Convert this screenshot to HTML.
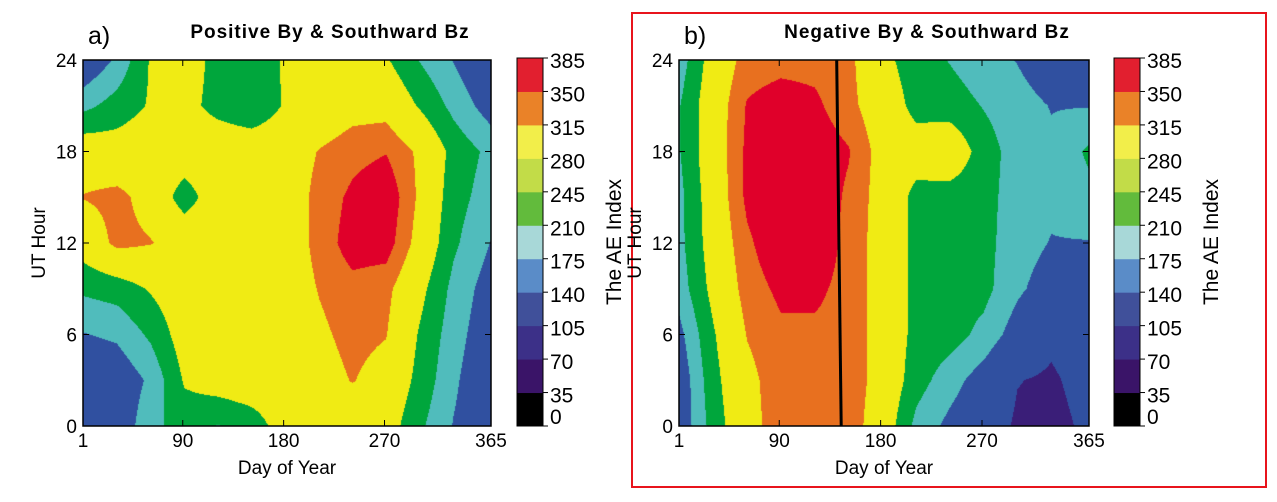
<!DOCTYPE html>
<html><head><meta charset="utf-8"><style>
body{margin:0;width:1277px;height:502px;background:#fff;position:relative;overflow:hidden;font-family:"Liberation Sans",sans-serif}
.abs{position:absolute}
canvas{position:absolute}
</style></head><body>
<div class="abs" style="left:631px;top:12px;width:632px;height:472px;border:2px solid #e8141c"></div>
<svg class="abs" style="left:0;top:0" width="1277" height="502" id="svg"></svg>
<script>
// Shared axes
const days = [1,31,61,91,121,151,181,211,241,271,301,331,365];
const hours = [0,3,6,9,12,15,18,21,24];
const xTicks = [1,90,180,270,365];
const yTicks = [0,6,12,18,24];
const cbLevels = [0,35,70,105,140,175,210,245,280,315,350,385];
// Panel a values (rows = hours, cols = days)
const aeA = [
[130,140,200,230,210,230,280,290,290,280,220,170,130],
[130,140,180,260,280,290,290,300,320,300,240,180,130],
[170,180,220,280,290,290,290,310,330,320,250,190,140],
[220,230,260,290,290,290,290,320,340,330,270,200,150],
[280,330,320,300,290,290,290,330,370,370,300,220,170],
[320,330,300,230,290,290,290,330,360,380,310,230,190],
[290,280,290,290,290,290,290,320,340,350,310,240,200],
[200,230,260,270,240,220,260,280,300,300,250,200,150],
[130,180,260,280,240,230,260,280,290,260,210,170,120]];
// Panel b values
const aeB = [
[140,230,300,340,340,340,290,200,160,130,90,80,110],
[140,240,305,340,340,340,300,230,190,150,100,90,120],
[160,250,320,345,345,340,300,240,230,200,150,110,130],
[190,270,335,360,360,340,300,240,230,225,180,150,150],
[200,280,345,380,380,340,300,240,230,225,190,170,170],
[200,285,360,385,380,345,300,240,230,225,195,180,200],
[210,290,360,390,375,355,300,280,300,230,195,180,220],
[210,290,355,370,360,330,290,240,230,210,190,170,170],
[190,280,335,340,340,330,270,230,210,190,170,140,140]];
const lineDays = [141,145]; // at hour 24 and hour 0

const cbColors=['#000000','#3a1468','#3c3088','#40509a','#5a8cc8','#a8d8d8','#62bb3c','#c2dc48','#f2ee4a','#ea8228','#e21f2f'];
function plotColor(v){
  if(v>=352)return '#e0002a';
  if(v>=318)return '#e8701f';
  if(v>=255)return '#f0eb14';
  if(v>=212)return '#00a63c';
  if(v>=172)return '#50bcbc';
  if(v>=98)return '#3050a0';
  return '#3a1e78';
}
const NS='http://www.w3.org/2000/svg';
const svg=document.getElementById('svg');
function el(tag,attrs,parent){const e=document.createElementNS(NS,tag);for(const k in attrs)e.setAttribute(k,attrs[k]);(parent||svg).appendChild(e);return e;}
function interp(grid,d,h){
  let i=0;while(i<days.length-2&&d>days[i+1])i++;
  let j=0;while(j<hours.length-2&&h>hours[j+1])j++;
  const tx=(d-days[i])/(days[i+1]-days[i]),ty=(h-hours[j])/(hours[j+1]-hours[j]);
  const a=grid[j][i],b=grid[j][i+1],c=grid[j+1][i],e=grid[j+1][i+1];
  return a*(1-tx)*(1-ty)+b*tx*(1-ty)+c*(1-tx)*ty+e*tx*ty;
}
function panel(px,py,w,h,grid,name,label,title,titleX,cbx,ylOff){
  const xs=d=>px+(d-1)/(364)*w, ys=v=>py+h-v/24*h;
  const cv=document.createElement('canvas');cv.width=w;cv.height=h;cv.style.left=px+'px';cv.style.top=py+'px';
  
  
  document.body.insertBefore(cv,svg);
  const ctx=cv.getContext('2d');
  for(let y=0;y<h;y++)for(let x=0;x<w;x++){
    const d=1+x/w*364, hr=24-(y+0.5)/h*24;
    ctx.fillStyle=plotColor(interp(grid,d,hr));ctx.fillRect(x,y,1,1);
  }
  const g=el('g',{});
  
  
  el('rect',{x:px,y:py,width:w,height:h,fill:'none',stroke:'#000','stroke-width':1.5},g);
  xTicks.forEach(t=>{const x=xs(t);el('line',{x1:x,x2:x,y1:py+h,y2:py+h-6,stroke:'#000'},g);el('line',{x1:x,x2:x,y1:py,y2:py+6,stroke:'#000'},g);
    const tx=el('text',{x:x,y:py+h+21,'text-anchor':'middle','font-size':19},g);tx.textContent=t;});
  yTicks.forEach(t=>{const y=ys(t);el('line',{x1:px,x2:px+6,y1:y,y2:y,stroke:'#000'},g);el('line',{x1:px+w,x2:px+w-6,y1:y,y2:y,stroke:'#000'},g);
    const tx=el('text',{x:px-6,y:y+7,'text-anchor':'end','font-size':19},g);tx.textContent=t;});
  const xl=el('text',{x:px+w/2,y:py+h+48,'text-anchor':'middle','font-size':19},g);xl.textContent='Day of Year';
  const yl=el('text',{x:0,y:0,'text-anchor':'middle','font-size':19,transform:`translate(${px-ylOff},${py+h/2}) rotate(-90)`},g);yl.textContent='UT Hour';
  const lb=el('text',{x:px+5,y:py-16,'font-size':25},g);lb.textContent=label;
  const tt=el('text',{x:titleX,y:py-22,'text-anchor':'middle','font-size':19,'font-weight':'bold','letter-spacing':'1'},g);tt.textContent=title;
  const cb=el('g',{});
  
  
  const top=58,bot=426,seg=(bot-top)/cbColors.length;
  cbColors.forEach((c,i)=>el('rect',{x:cbx,y:bot-(i+1)*seg,width:26,height:seg+0.5,fill:c},cb));
  el('rect',{x:cbx,y:top,width:26,height:bot-top,fill:'none',stroke:'#000'},cb);
  cbLevels.forEach((v,i)=>{const y=bot-i*seg;el('line',{x1:cbx+26,x2:cbx+31,y1:y,y2:y,stroke:'#000'},cb);
    const tx=el('text',{x:cbx+33,y:Math.min(y+10,424),'font-size':21},cb);tx.textContent=v;});
  const at=el('text',{x:0,y:0,'text-anchor':'middle','font-size':21,transform:`translate(${cbx+104},${(top+bot)/2}) rotate(-90)`},cb);at.textContent='The AE Index';
  return {xs,ys};
}
panel(83,60,408,366,aeA,'panel-a','a)','Positive By \u0026 Southward Bz',330,517,38);
const pb=panel(679,60,410,366,aeB,'panel-b','b)','Negative By \u0026 Southward Bz',927,1114,38);
const ln=el('line',{x1:pb.xs(lineDays[0]),y1:pb.ys(24),x2:pb.xs(lineDays[1]),y2:pb.ys(0),stroke:'#000','stroke-width':3});


</script>
</body></html>
